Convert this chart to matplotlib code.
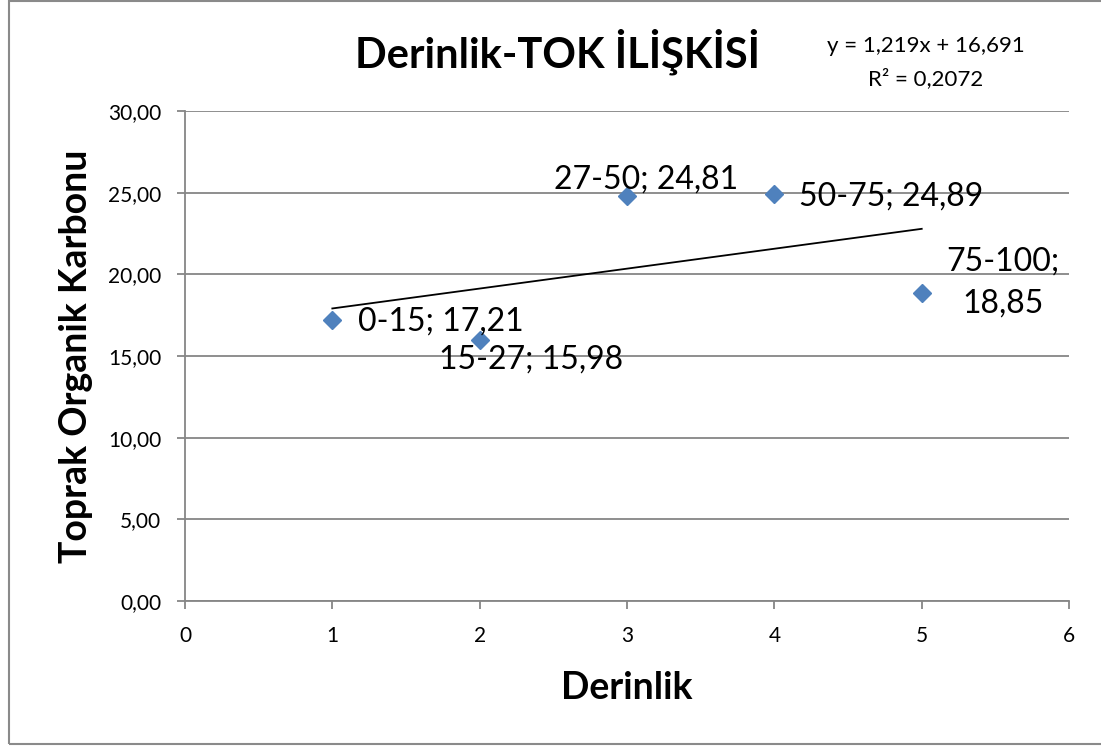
import numpy as np
import matplotlib.pyplot as plt
from matplotlib.patches import Rectangle

plt.rcParams['font.family'] = ['Lato', 'DejaVu Sans']

# data
depth = [1, 2, 3, 4, 5]
toc = [17.21, 15.98, 24.81, 24.89, 18.85]
ranges = ['0-15', '15-27', '27-50', '50-75', '75-100']
yticks = [0, 5, 10, 15, 20, 25, 30]
xticks = [0, 1, 2, 3, 4, 5, 6]

# label offsets in pixels from each marker (x, y) and alignment
lab_off = [(26, -2, 'left'), (51, -20, 'center'), (19, 16, 'center'),
           (25, -2, 'left'), (81, 11, 'center')]

grid_col = '#868686'
mark_col = '#4F81BD'

fig = plt.figure(figsize=(11.01, 7.46), dpi=100)
ax = fig.add_axes([0.168, 0.1944, 0.803, 0.6568])

ax.set_xlim(0, 6)
ax.set_ylim(0, 30)
ax.set_xticks(xticks)
ax.set_yticks(yticks)
ax.set_yticklabels([f'{v:.2f}'.replace('.', ',') for v in yticks])
ax.grid(axis='y', color=grid_col, lw=1.3)
ax.set_axisbelow(True)
for s in ['top', 'right']:
    ax.spines[s].set_visible(False)
for s in ['left', 'bottom']:
    ax.spines[s].set_color(grid_col)
    ax.spines[s].set_linewidth(1.3)
ax.tick_params(axis='both', colors=grid_col, length=6, width=1.3,
               labelcolor='black', labelsize=15)
ax.tick_params(axis='x', pad=12)
ax.tick_params(axis='y', pad=11)

# linear trend line
slope, icept = np.polyfit(depth, toc, 1)
tx = np.array([depth[0], depth[-1]])
ax.plot(tx, slope * tx + icept, color='black', lw=1.3, zorder=2)

ax.plot(depth, toc, linestyle='none', marker='D', markersize=9.5,
        color=mark_col, zorder=3)

for i in range(len(depth)):
    txt = f'{ranges[i]}; ' + f'{toc[i]:.2f}'.replace('.', ',')
    if i == 4:
        txt = f'{ranges[i]};\n' + f'{toc[i]:.2f}'.replace('.', ',')
    dx, dy, ha = lab_off[i]
    ax.annotate(txt, (depth[i], toc[i]), xytext=(dx, dy),
                textcoords='offset pixels', ha=ha, va='center',
                fontsize=23, linespacing=1.5, zorder=4)

ax.set_xlabel('Derinlik', fontsize=27, fontweight='bold', labelpad=18)
ax.set_ylabel('Toprak Organik Karbonu', fontsize=27, fontweight='bold', labelpad=11)

fig.text(0.506, 0.930, 'Derinlik-TOK İLİŞKİSİ', ha='center', va='center',
         fontsize=30, fontweight='bold')
fig.text(0.841, 0.938, 'y = 1,219x + 16,691', ha='center', va='center', fontsize=16)
fig.text(0.841, 0.895, 'R² = 0,2072', ha='center', va='center', fontsize=16)

fig.patches.append(Rectangle((0.0082, 0.003), 1.2, 0.996, transform=fig.transFigure,
                             fill=False, edgecolor='#8a8a8a', lw=1.5))

fig.savefig('out.png', dpi=100)
